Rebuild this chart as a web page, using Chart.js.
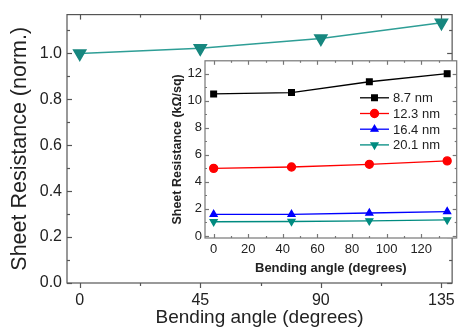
<!DOCTYPE html>
<html>
<head>
<meta charset="utf-8">
<script src="https://cdn.jsdelivr.net/npm/chart.js@4.4.0/dist/chart.umd.min.js"></script>
<style>
html, body { margin: 0; padding: 0; background: #fff; }
#wrap { position: relative; width: 463px; height: 327px; overflow: hidden; }
#mainChart { position: absolute; left: 0; top: 0; }
#insetChart { position: absolute; left: 150px; top: 50px; }
</style>
</head>
<body>
<div id="wrap">
  <canvas id="mainChart" width="463" height="327"></canvas>
  <canvas id="insetChart" width="312" height="230"></canvas>
</div>
<script>
// main plot: normalised sheet resistance of the 20.1 nm film
const mainAngles = [0, 45, 90, 135];
const mainNorm = [1.0, 1.022, 1.065, 1.134];
const mainXTicks = [0, 45, 90, 135];
const mainXMinor = [22.5, 67.5, 112.5];
const mainYTicks = [0, 0.2, 0.4, 0.6, 0.8, 1.0];
const mainYMinor = [0.1, 0.3, 0.5, 0.7, 0.9, 1.1];

// inset: absolute sheet resistance (kOhm/sq) per film thickness
const insetAngles = [0, 45, 90, 135];
const insetNames = ['8.7 nm', '12.3 nm', '16.4 nm', '20.1 nm'];
const res87 = [10.5, 10.6, 11.4, 12.0];
const res123 = [5.0, 5.1, 5.3, 5.55];
const res164 = [1.6, 1.6, 1.7, 1.8];
const res201 = [1.05, 1.07, 1.12, 1.19];
const insetXTicks = [0, 20, 40, 60, 80, 100, 120];
const insetXMinor = [10, 30, 50, 70, 90, 110, 130];
const insetYTicks = [0, 2, 4, 6, 8, 10, 12];
const insetYMinor = [1, 3, 5, 7, 9, 11];

const FONT = "'Liberation Sans', Arial, sans-serif";
const TEAL = '#17877f';

Chart.defaults.font.family = FONT;
Chart.defaults.color = '#222';

const toPoints = (xs, ys) => xs.map((x, i) => ({ x: x, y: ys[i] }));

// box around the plot + tick marks (inside or outside)
const frameTicks = {
  id: 'frameTicks',
  beforeDraw(chart, args, o) {
    const { ctx, chartArea: a } = chart;
    if (o.fill) {
      ctx.save();
      ctx.fillStyle = o.fill;
      ctx.fillRect(a.left, a.top, a.right - a.left, a.bottom - a.top);
      ctx.restore();
    }
  },
  beforeDatasetsDraw(chart, args, o) {
    const { ctx, chartArea: a, scales } = chart;
    const x = scales.x, y = scales.y;
    ctx.save();
    ctx.strokeStyle = o.color;
    ctx.lineWidth = o.width;
    ctx.strokeRect(a.left, a.top, a.right - a.left, a.bottom - a.top);
    const seg = (x1, y1, x2, y2) => {
      ctx.beginPath(); ctx.moveTo(x1, y1); ctx.lineTo(x2, y2); ctx.stroke();
    };
    const xMarks = (vals, len) => vals.forEach(v => {
      const p = Math.round(x.getPixelForValue(v)) + 0.5;
      seg(p, a.bottom, p, a.bottom + (o.bottomOut ? len : -len));
      seg(p, a.top, p, a.top + len);
    });
    const yMarks = (vals, len) => vals.forEach(v => {
      const p = Math.round(y.getPixelForValue(v)) + 0.5;
      seg(a.left, p, a.left + len, p);
      seg(a.right, p, a.right - len, p);
    });
    xMarks(o.xMajor, o.major);
    xMarks(o.xMinor, o.minor);
    yMarks(o.yMajor, o.major);
    yMarks(o.yMinor, o.minor);
    ctx.restore();
  }
};

// legend with line + marker, like Origin
const lineLegend = {
  id: 'lineLegend',
  afterDatasetsDraw(chart, args, o) {
    const { ctx, chartArea: a } = chart;
    ctx.save();
    ctx.font = o.font;
    ctx.textBaseline = 'middle';
    chart.data.datasets.forEach((ds, i) => {
      const yy = a.top + o.top + i * o.step;
      const x0 = a.left + o.left;
      ctx.strokeStyle = ds.borderColor;
      ctx.lineWidth = ds.borderWidth;
      ctx.beginPath(); ctx.moveTo(x0, yy); ctx.lineTo(x0 + o.len, yy); ctx.stroke();
      ctx.fillStyle = ds.pointBackgroundColor;
      ctx.strokeStyle = ds.pointBackgroundColor;
      Chart.helpers.drawPoint(ctx, {
        pointStyle: ds.pointStyle, radius: ds.pointRadius,
        rotation: ds.pointRotation || 0, borderWidth: 1
      }, x0 + o.len / 2, yy);
      ctx.fillStyle = '#222';
      ctx.fillText(ds.label, x0 + o.len + 4, yy + 1);
    });
    ctx.restore();
  }
};

new Chart(document.getElementById('mainChart'), {
  type: 'line',
  data: {
    datasets: [{
      label: '20.1 nm',
      data: toPoints(mainAngles, mainNorm),
      borderColor: '#2e9e96',
      borderWidth: 1.5,
      pointStyle: 'triangle',
      pointRotation: 180,
      pointRadius: 7,
      pointBackgroundColor: TEAL,
      pointBorderColor: TEAL,
      tension: 0
    }]
  },
  options: {
    responsive: false,
    animation: false,
    devicePixelRatio: 1,
    layout: { padding: { top: 13, right: 4, left: 0, bottom: 0 } },
    plugins: {
      legend: { display: false },
      tooltip: { enabled: false },
      frameTicks: {
        color: '#555', width: 1.2, major: 5, minor: 3, bottomOut: true,
        xMajor: mainXTicks, xMinor: mainXMinor, yMajor: mainYTicks, yMinor: mainYMinor
      }
    },
    scales: {
      x: {
        type: 'linear', min: -4.75, max: 139,
        afterBuildTicks: s => { s.ticks = mainXTicks.map(v => ({ value: v })); },
        afterFit: s => { s.height = 44; },
        grid: { display: false, drawTicks: false },
        border: { display: false },
        ticks: { font: { size: 16 }, padding: 8, maxRotation: 0 },
        title: {
          display: true, text: 'Bending angle (degrees)',
          font: { size: 19, lineHeight: 1 }, padding: { top: 0, bottom: 0 }
        }
      },
      y: {
        min: 0, max: 1.169,
        afterBuildTicks: s => { s.ticks = mainYTicks.map(v => ({ value: v })); },
        afterFit: s => { s.width = 67; },
        grid: { display: false, drawTicks: false },
        border: { display: false },
        ticks: { font: { size: 16 }, padding: 5, callback: v => v.toFixed(1) },
        title: {
          display: true, text: 'Sheet Resistance (norm.)',
          font: { size: 21.5, lineHeight: 1 }, padding: { top: 9, bottom: 0 }
        }
      }
    }
  },
  plugins: [frameTicks]
});

function insetSet(label, values, color, style, rot) {
  return {
    label: label,
    data: toPoints(insetAngles, values),
    borderColor: color,
    borderWidth: 1.3,
    pointStyle: style,
    pointRotation: rot,
    pointRadius: 4,
    pointBackgroundColor: color,
    pointBorderColor: color,
    tension: 0
  };
}

new Chart(document.getElementById('insetChart'), {
  type: 'line',
  data: {
    datasets: [
      insetSet(insetNames[0], res87, '#000000', 'rect', 0),
      insetSet(insetNames[1], res123, '#ff0000', 'circle', 0),
      insetSet(insetNames[2], res164, '#0000ff', 'triangle', 0),
      insetSet(insetNames[3], res201, '#008b80', 'triangle', 180)
    ]
  },
  options: {
    responsive: false,
    animation: false,
    devicePixelRatio: 1,
    layout: { padding: { top: 7, right: 5, left: 0, bottom: 0 } },
    plugins: {
      legend: { display: false },
      tooltip: { enabled: false },
      frameTicks: {
        fill: '#fff', color: '#777', width: 1.2, major: 4, minor: 2, bottomOut: false,
        xMajor: insetXTicks, xMinor: insetXMinor, yMajor: insetYTicks, yMinor: insetYMinor
      },
      lineLegend: { font: '13px ' + FONT, left: 155, top: 37, step: 15.7, len: 29 }
    },
    scales: {
      x: {
        type: 'linear', min: -5, max: 140.5,
        afterBuildTicks: s => { s.ticks = insetXTicks.map(v => ({ value: v })); },
        afterFit: s => { s.height = 42; },
        grid: { display: false, drawTicks: false },
        border: { display: false },
        ticks: { font: { size: 13 }, padding: 4, maxRotation: 0 },
        title: {
          display: true, text: 'Bending angle (degrees)',
          font: { size: 13, weight: 'bold', lineHeight: 1 }, padding: { top: 0, bottom: 5 }
        }
      },
      y: {
        min: -0.15, max: 12.95,
        afterBuildTicks: s => { s.ticks = insetYTicks.map(v => ({ value: v })); },
        afterFit: s => { s.width = 55; },
        grid: { display: false, drawTicks: false },
        border: { display: false },
        ticks: { font: { size: 13 }, padding: 3 },
        title: {
          display: true, text: 'Sheet Resistance (k\u03A9/sq)',
          font: { size: 12.5, weight: 'bold', lineHeight: 1 }, padding: { top: 21, bottom: 0 }
        }
      }
    }
  },
  plugins: [frameTicks, lineLegend]
});
</script>
</body>
</html>
